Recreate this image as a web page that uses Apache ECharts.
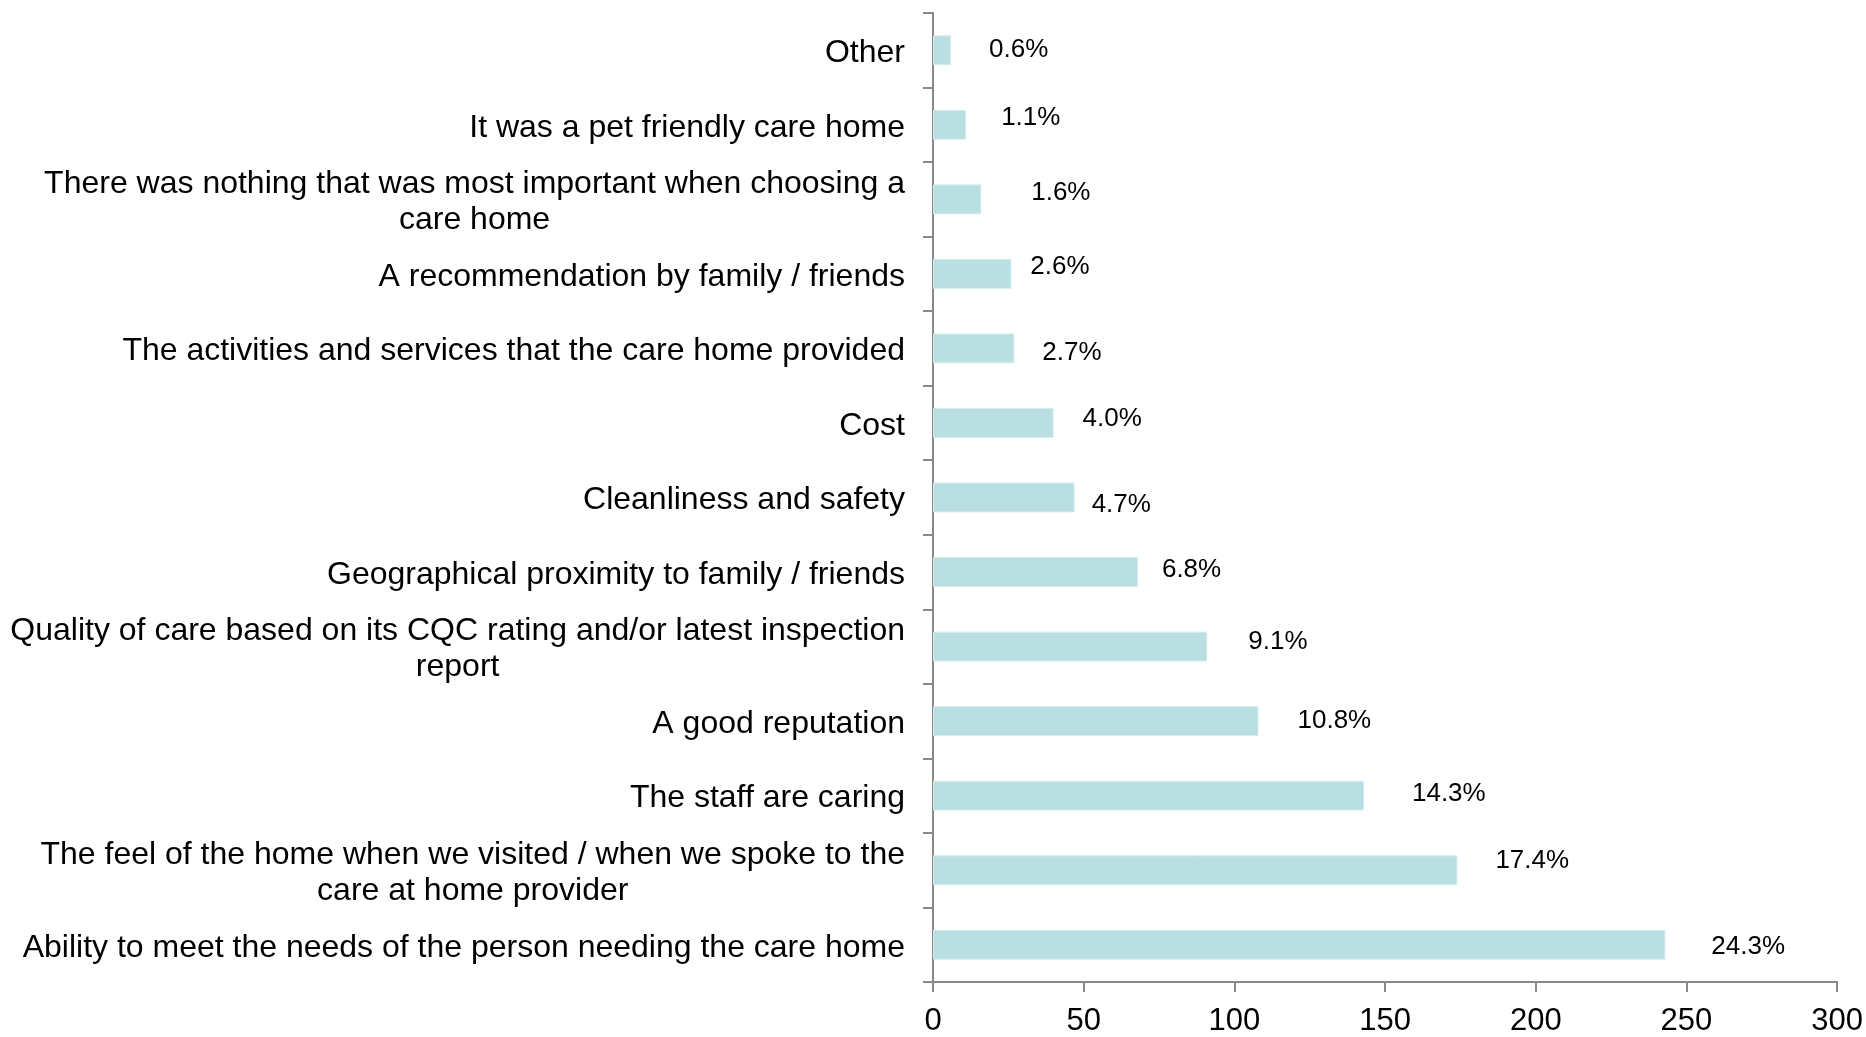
<!DOCTYPE html>
<html>
<head>
<meta charset="utf-8">
<script src="https://cdn.jsdelivr.net/npm/echarts@6/dist/echarts.min.js"></script>
<style>
  html, body { margin: 0; padding: 0; background: #fff; }
  #chart { width: 1866px; height: 1037px; }
</style>
</head>
<body>
<div id="chart"></div>
<script>
// categories, bottom to top (category axis starts at the bottom)
const categories = [
  'Ability to meet the needs of the person needing the care home',
  'The feel of the home when we visited / when we spoke to the\ncare at home provider',
  'The staff are caring',
  'A good reputation',
  'Quality of care based on its CQC rating and/or latest inspection\nreport',
  'Geographical proximity to family / friends',
  'Cleanliness and safety',
  'Cost',
  'The activities and services that the care home provided',
  'A recommendation by family / friends',
  'There was nothing that was most important when choosing a\ncare home',
  'It was a pet friendly care home',
  'Other'
]
const counts = [243, 174, 143, 108, 91, 68, 47, 40, 27, 26, 16, 11, 6]
const percentLabels = ['24.3%', '17.4%', '14.3%', '10.8%', '9.1%', '6.8%', '4.7%', '4.0%', '2.7%', '2.6%', '1.6%', '1.1%', '0.6%']
const xTicks = [0, 50, 100, 150, 200, 250, 300]

// hand-placed label nudges from the original (dx, dy in px)
const labelOffsets = [
  [46, 2], [38, -9], [48, -2], [39, 0], [41, -5], [24, -2], [17, 7],
  [29, -4], [28, 4], [19, -7], [50, -7], [35, -7], [38, 0]
]

const FONT = '"Liberation Sans", Arial, sans-serif'

const chart = echarts.init(document.getElementById('chart'))

const option = {
  backgroundColor: '#fff',
  animation: false,
  grid: {
    left: 933,
    right: 27,
    top: 13,
    bottom: 53,
    containLabel: false
  },
  xAxis: {
    type: 'value',
    min: xTicks[0],
    max: xTicks[xTicks.length - 1],
    interval: 50,
    splitLine: { show: false },
    axisLine: { show: true, lineStyle: { color: '#898989', width: 2 } },
    axisTick: { show: true, length: 10, lineStyle: { color: '#898989', width: 2 } },
    axisLabel: {
      color: '#000',
      fontFamily: FONT,
      fontSize: 31,
      margin: 24
    }
  },
  yAxis: {
    type: 'category',
    data: categories,
    axisLine: { show: true, lineStyle: { color: '#898989', width: 2 } },
    axisTick: { show: true, length: 10, lineStyle: { color: '#898989', width: 2 } },
    axisLabel: {
      color: '#000',
      fontFamily: FONT,
      fontSize: 32,
      margin: 28,
      lineHeight: 36,
      formatter: (v) => v.split('\n').map((s) => '{c|' + s + '}').join('\n'),
      rich: {
        c: {
          align: 'center',
          color: '#000',
          fontFamily: FONT,
          fontSize: 32,
          lineHeight: 36
        }
      },
      padding: [6, 0, 0, 0]
    }
  },
  series: [
    {
      type: 'bar',
      barWidth: '40%',
      data: counts.map((v, i) => ({
        value: v,
        label: { offset: labelOffsets[i] }
      })),
      itemStyle: {
        color: '#b9dfe2',
        borderColor: '#d3ecee',
        borderWidth: 1
      },
      label: {
        show: true,
        position: 'right',
        distance: 0,
        color: '#000',
        fontFamily: FONT,
        fontSize: 26,
        formatter: (p) => percentLabels[p.dataIndex]
      }
    }
  ]
}

chart.setOption(option, true)
</script>
</body>
</html>
